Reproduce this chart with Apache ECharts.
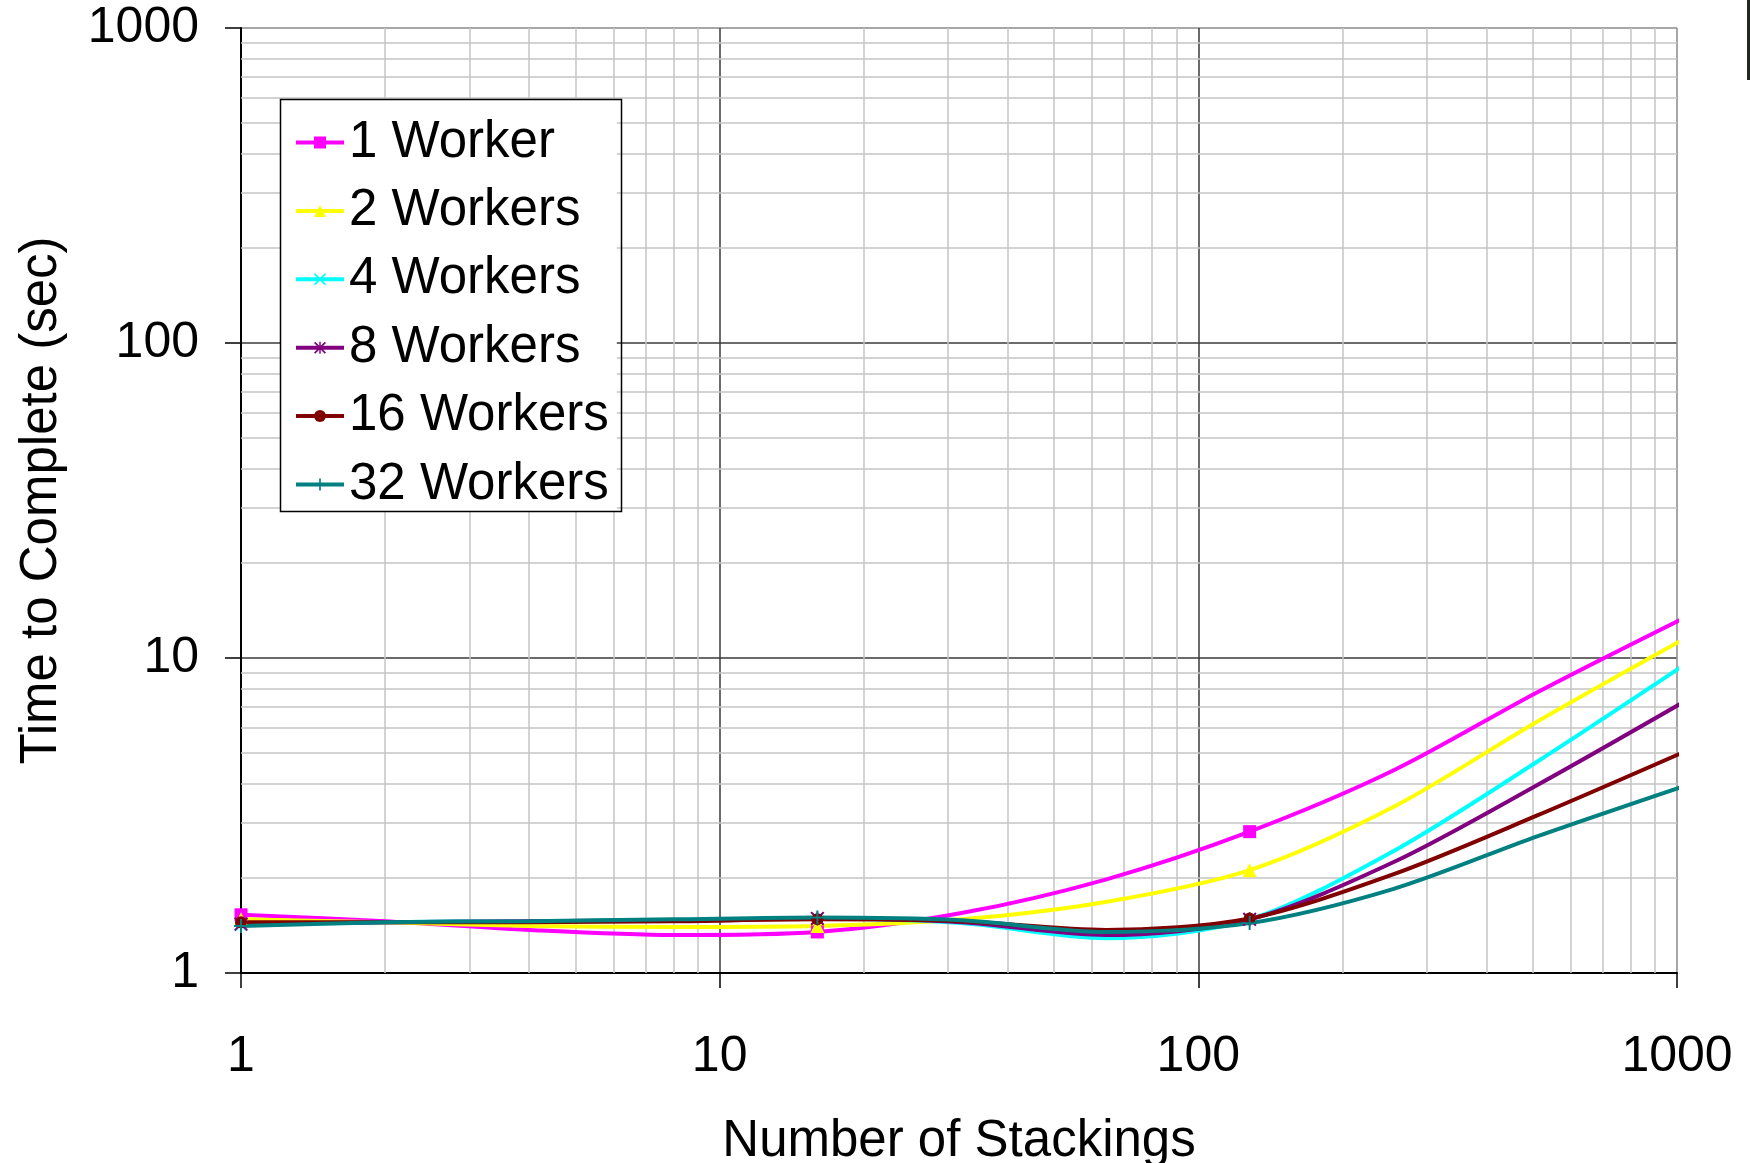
<!DOCTYPE html>
<html>
<head>
<meta charset="utf-8">
<style>
  html, body { margin: 0; padding: 0; background: #fff; }
  #chart { width: 1750px; height: 1163px; }
</style>
<script src="https://cdn.jsdelivr.net/npm/echarts@6/dist/echarts.min.js"></script>
</head>
<body>
<div id="chart"></div>
<script>
// Number of stackings (x) and time to complete in seconds (y) per worker count
const stackings = [1, 2, 4, 8, 16, 32, 64, 128, 256, 512, 1024];
const markedStackings = [1, 16, 128];

const oneWorker       = [1.53, 1.46, 1.37, 1.32, 1.35, 1.55, 1.98, 2.81, 4.40, 7.80, 13.3];
const twoWorkers      = [1.48, 1.45, 1.41, 1.40, 1.41, 1.48, 1.68, 2.12, 3.37, 6.30, 11.4];
const fourWorkers     = [1.42, 1.45, 1.46, 1.47, 1.49, 1.44, 1.29, 1.48, 2.44, 4.70, 9.4];
const eightWorkers    = [1.43, 1.45, 1.46, 1.47, 1.49, 1.45, 1.32, 1.48, 2.25, 3.96, 7.2];
const sixteenWorkers  = [1.45, 1.45, 1.45, 1.46, 1.48, 1.46, 1.37, 1.49, 2.06, 3.17, 5.0];
const thirtyTwoWorkers= [1.41, 1.45, 1.46, 1.48, 1.50, 1.47, 1.35, 1.44, 1.85, 2.72, 3.9];

const seriesNames = ['1 Worker', '2 Workers', '4 Workers', '8 Workers', '16 Workers', '32 Workers'];
const seriesValues = [oneWorker, twoWorkers, fourWorkers, eightWorkers, sixteenWorkers, thirtyTwoWorkers];
const seriesColors = ['#FF00FF', '#FFFF00', '#00FFFF', '#800080', '#800000', '#008080'];

// Minor grid positions inside each decade
const minorX = [2, 3, 4, 5, 6, 7, 8, 9, 20, 30, 40, 50, 60, 70, 80, 90, 200, 300, 400, 500, 600, 700, 800, 900];
const minorY = [2, 3, 4, 5, 6, 7, 8, 9, 20, 30, 40, 50, 60, 70, 80, 90, 200, 300, 400, 500, 600, 700, 800, 900];

const FONT = '"Liberation Sans", Arial, Helvetica, sans-serif';

const crossPath = 'path://M1,0 L5,4 L9,0 L10,1 L6,5 L10,9 L9,10 L5,6 L1,10 L0,9 L4,5 L0,1 Z';
const starPath = 'path://M1,0 L5,4 L9,0 L10,1 L6,5 L10,9 L9,10 L5,6 L1,10 L0,9 L4,5 L0,1 Z M4.4,0 L5.6,0 L5.6,10 L4.4,10 Z';
const plusPath = 'path://M4.3,0 L5.7,0 L5.7,4.3 L10,4.3 L10,5.7 L5.7,5.7 L5.7,10 L4.3,10 L4.3,5.7 L0,5.7 L0,4.3 L4.3,4.3 Z';

const seriesSymbols = ['rect', 'triangle', crossPath, starPath, 'circle', plusPath];
const seriesSymbolSizes = [13, 14, 13, 14, 12, 14];

const chart = echarts.init(document.getElementById('chart'), null, { renderer: 'canvas' });

const workerSeries = seriesNames.map((name, i) => ({
  name: name,
  type: 'line',
  z: 3,
  clip: false,
  smooth: 0.3,
  symbol: seriesSymbols[i],
  symbolSize: seriesSymbolSizes[i],
  showSymbol: true,
  showAllSymbol: true,
  lineStyle: { color: seriesColors[i], width: 4 },
  itemStyle: { color: seriesColors[i], borderWidth: 0 },
  emphasis: { disabled: true },
  data: stackings.map((x, k) => {
    const item = { value: [x, seriesValues[i][k]] };
    if (markedStackings.indexOf(x) < 0) item.symbol = 'none';
    return item;
  })
}));

// Light minor grid drawn through the axis scales
const minorGrid = {
  name: 'minor-grid',
  type: 'line',
  z: 1,
  silent: true,
  data: [],
  markLine: {
    z: 1,
    silent: true,
    symbol: ['none', 'none'],
    label: { show: false },
    lineStyle: { color: '#c4c4c4', width: 1.5, type: 'solid' },
    emphasis: { disabled: true },
    animation: false,
    data: minorX.map(v => ({ xAxis: v })).concat(minorY.map(v => ({ yAxis: v })))
  }
};

const plainNumber = v => String(Math.round(v));

chart.setOption({
  animation: false,
  backgroundColor: '#ffffff',
  textStyle: { fontFamily: FONT },
  grid: { left: 241, right: 73, top: 28, bottom: 190, containLabel: false, outerBoundsMode: 'none' },
  legend: {
    data: seriesNames,
    orient: 'vertical',
    left: 280,
    top: 100,
    z: 10,
    padding: [17, 8, 1, 14],
    itemGap: 17.4,
    itemWidth: 48,
    itemHeight: 15,
    backgroundColor: '#ffffff',
    borderWidth: 0,
    selectedMode: false,
    lineStyle: { width: 4 },
    textStyle: {
      fontFamily: FONT,
      fontSize: 51,
      lineHeight: 50,
      color: '#000'
    }
  },
  xAxis: {
    type: 'log',
    logBase: 10,
    min: 1,
    max: 1000,
    name: 'Number of Stackings',
    nameLocation: 'middle',
    nameGap: 143,
    nameTextStyle: { fontFamily: FONT, fontSize: 51, color: '#000' },
    axisLine: { show: true, lineStyle: { color: '#000', width: 2 } },
    axisTick: { show: true, inside: false, length: 15, lineStyle: { color: '#000', width: 1.5 } },
    axisLabel: { fontFamily: FONT, fontSize: 50, color: '#000', margin: 59, formatter: plainNumber },
    splitLine: { show: true, lineStyle: { color: ['#000', '#3a3a3a', '#3a3a3a', '#8a8a8a'], width: 1.5 } },
    minorTick: { show: false },
    minorSplitLine: { show: false }
  },
  yAxis: {
    type: 'log',
    logBase: 10,
    min: 1,
    max: 1000,
    name: 'Time to Complete (sec)',
    nameLocation: 'middle',
    nameRotate: 90,
    nameGap: 174,
    nameTextStyle: { fontFamily: FONT, fontSize: 51, color: '#000' },
    axisLine: { show: true, lineStyle: { color: '#000', width: 2 } },
    axisTick: { show: true, inside: false, length: 16, lineStyle: { color: '#000', width: 1.5 } },
    axisLabel: { fontFamily: FONT, fontSize: 50, color: '#000', margin: 42, formatter: plainNumber },
    splitLine: { show: true, lineStyle: { color: ['#000', '#3a3a3a', '#3a3a3a', '#8a8a8a'], width: 1.5 } },
    minorTick: { show: false },
    minorSplitLine: { show: false }
  },
  graphic: [
    // frame around the legend box
    { type: 'rect', left: 278, top: 97, z: 20, silent: true,
      shape: { width: 341, height: 412 },
      style: { fill: 'none', stroke: '#000', lineWidth: 1.5 } },
    { type: 'rect', right: 0, top: 0, shape: { width: 3, height: 80 }, style: { fill: '#1e2a1e' }, silent: true }
  ],
  series: [minorGrid].concat(workerSeries)
});
</script>
</body>
</html>
